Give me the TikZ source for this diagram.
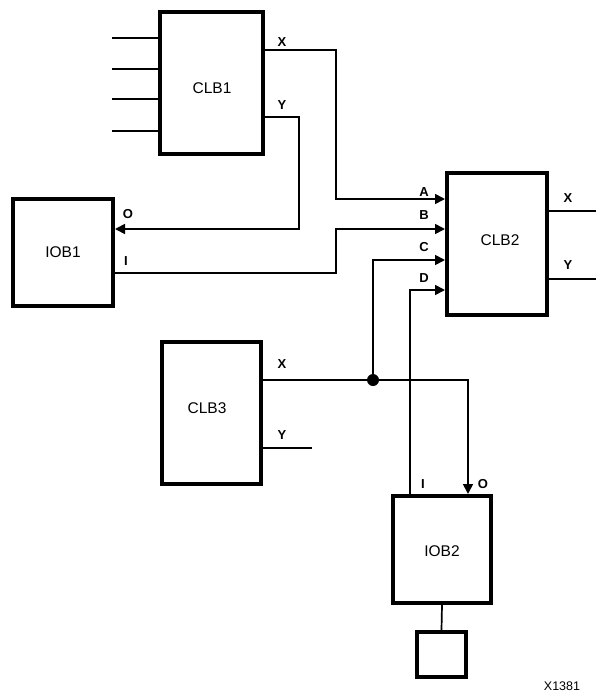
\documentclass[tikz,border=0pt]{standalone}
\usepackage{fontspec}
\setmainfont{Liberation Sans}
\usetikzlibrary{arrows.meta}
\begin{document}
\begin{tikzpicture}[x=1pt,y=-1pt,
  blk/.style={draw, line width=4pt, inner sep=0pt, font=\fontsize{15.5}{15.5}\selectfont},
  wire/.style={line width=1.7pt},
  arr/.style={-{Triangle[length=10pt,width=10pt]}},
  pin/.style={inner sep=0pt, font=\bfseries\fontsize{13}{13}\selectfont},
  note/.style={inner sep=0pt, font=\fontsize{12.5}{12.5}\selectfont}]
\useasboundingbox (0,0) rectangle (596,699);
% blocks
\node[blk, minimum width=103pt, minimum height=142pt] (clb1) at (211.5,83) {};
\node[blk, minimum width=100pt, minimum height=107pt] (iob1) at (63,252.5) {};
\node[blk, minimum width=100pt, minimum height=142pt] (clb2) at (497,244) {};
\node[blk, minimum width=99pt, minimum height=142pt] (clb3) at (211.5,413) {};
\node[blk, minimum width=98pt, minimum height=107pt] (iob2) at (442,549.5) {};
\node[blk, minimum width=49pt, minimum height=45pt] (pad) at (441.5,654.5) {};
% block names
\node[blk, draw=none] (t1) at (212,88) {CLB1};
\node[blk, draw=none] (t2) at (63,252) {IOB1};
\node[blk, draw=none] (t3) at (500,240) {CLB2};
\node[blk, draw=none] (t4) at (207,408) {CLB3};
\node[blk, draw=none] (t5) at (442,551) {IOB2};
% CLB1 inputs
\foreach \yy [count=\i] in {38,69,99,131} {
  \coordinate (in\i) at (112,\yy);
  \draw[wire] (in\i) -- (clb1.west |- in\i);
}
% CLB1 X -> CLB2 A
\draw[wire,arr] (clb1.east |- 0,50) -| (336,199) -- (clb2.west |- 0,199);
% CLB1 Y -> IOB1 O
\draw[wire,arr] (clb1.east |- 0,117) -| (299,229) -- (iob1.east |- 0,229);
% IOB1 I -> CLB2 B
\draw[wire,arr] (iob1.east |- 0,273) -| (336,229) -- (clb2.west |- 0,229);
% CLB3 X -> IOB2 O
\draw[wire,arr] (clb3.east |- 0,380) -| (iob2.north -| 468,0);
\coordinate (jn) at (373,380);
\fill (jn) circle (6pt);
% junction -> CLB2 C
\draw[wire,arr] (jn) |- (clb2.west |- 0,260);
% IOB2 I -> CLB2 D
\draw[wire,arr] (iob2.north -| 410,0) |- (clb2.west |- 0,290);
% CLB3 Y
\coordinate (y3) at (312,448);
\draw[wire] (clb3.east |- y3) -- (y3);
% CLB2 outputs
\coordinate (x2) at (596,211);
\coordinate (y2) at (596,279);
\draw[wire] (clb2.east |- x2) -- (x2);
\draw[wire] (clb2.east |- y2) -- (y2);
% IOB2 to pad
\draw[wire] (iob2.south) -- (pad.north);
% pin labels
\node[pin] (l1x) at (282,42) {X};
\node[pin] (l1y) at (282,105) {Y};
\node[pin] (lo1) at (128,214) {O};
\node[pin] (li1) at (126,261) {I};
\node[pin] (la) at (424,192) {A};
\node[pin] (lb) at (424,215) {B};
\node[pin] (lc) at (424,247) {C};
\node[pin] (ld) at (424,278) {D};
\node[pin] (l2x) at (568,198) {X};
\node[pin] (l2y) at (568,265) {Y};
\node[pin] (l3x) at (282,364) {X};
\node[pin] (l3y) at (282,435) {Y};
\node[pin] (li2) at (423,484) {I};
\node[pin] (lo2) at (483,484) {O};
\node[note] (fig) at (562,686) {X1381};
\end{tikzpicture}
\end{document}
